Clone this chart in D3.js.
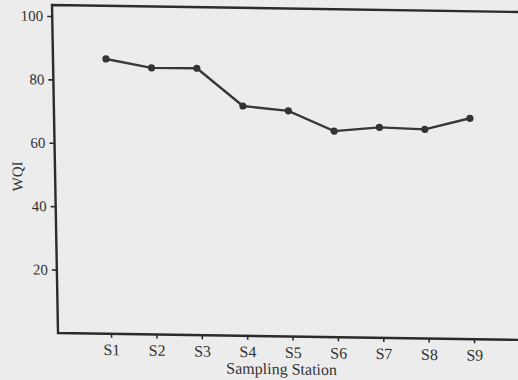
<!DOCTYPE html>
<html>
<head>
<meta charset="utf-8">
<script src="https://cdn.jsdelivr.net/npm/d3@7"></script>
<style>
  html, body { margin: 0; padding: 0; background: #ececec; }
  svg { display: block; }
</style>
</head>
<body>
<svg id="chart"></svg>
<script>
// data
const stations = ["S1", "S2", "S3", "S4", "S5", "S6", "S7", "S8", "S9"];
const wqi = [86.7, 84.1, 84.2, 72.5, 71.2, 65.0, 66.4, 66.0, 69.7];
const yTicks = [20, 40, 60, 80, 100];

const width = 518;
const height = 380;
const font = "'Liberation Serif', 'DejaVu Serif', serif";
const ink = "#2b2b2b";

const svg = d3.select("#chart")
  .attr("width", width)
  .attr("height", height);

svg.append("rect")
  .attr("width", width)
  .attr("height", height)
  .attr("fill", "#ececec");

// scanned page is slightly skewed, so the whole plot sits in a sheared group
const g = svg.append("g")
  .attr("transform", "translate(52,5) matrix(1,0.015,0.0183,1,0,0)");

const plotH = 328;
const xScale = d3.scalePoint().domain(stations).range([53, 416]);
const yScale = d3.scaleLinear().domain([0, 100]).range([plotH, 11]);

// frame (right side runs off the page)
g.append("path")
  .attr("d", `M480,0 H0 V${plotH} H480`)
  .attr("fill", "none")
  .attr("stroke", ink)
  .attr("stroke-width", 2.4);

// y axis
const gy = g.append("g")
  .call(d3.axisLeft(yScale).tickValues(yTicks).tickSize(5).tickPadding(4));
gy.select(".domain").remove();
gy.selectAll("line").attr("stroke", ink).attr("stroke-width", 1.6);
gy.selectAll("text")
  .attr("font-family", font)
  .attr("font-size", 15)
  .attr("fill", "#333");

// x axis
const gx = g.append("g")
  .attr("transform", `translate(0,${plotH})`)
  .call(d3.axisBottom(xScale).tickSize(4).tickPadding(6));
gx.select(".domain").remove();
gx.selectAll("line").attr("stroke", ink).attr("stroke-width", 1.6);
gx.selectAll("text")
  .attr("font-family", font)
  .attr("font-size", 16)
  .attr("fill", "#333");

// axis titles
g.append("text")
  .attr("x", 223)
  .attr("y", 366)
  .attr("text-anchor", "middle")
  .attr("font-family", font)
  .attr("font-size", 16)
  .attr("fill", "#333")
  .text("Sampling Station");

g.append("text")
  .attr("transform", "translate(-38,172) rotate(-90)")
  .attr("text-anchor", "middle")
  .attr("dy", "0.35em")
  .attr("font-family", font)
  .attr("font-size", 15)
  .attr("fill", "#333")
  .text("WQI");

// line + markers
const line = d3.line()
  .x((d, i) => xScale(stations[i]))
  .y(d => yScale(d));

g.append("path")
  .datum(wqi)
  .attr("d", line)
  .attr("fill", "none")
  .attr("stroke", "#383838")
  .attr("stroke-width", 2.4);

g.selectAll("circle")
  .data(wqi)
  .enter()
  .append("circle")
  .attr("cx", (d, i) => xScale(stations[i]))
  .attr("cy", d => yScale(d))
  .attr("r", 3.6)
  .attr("fill", "#333");
</script>
</body>
</html>
